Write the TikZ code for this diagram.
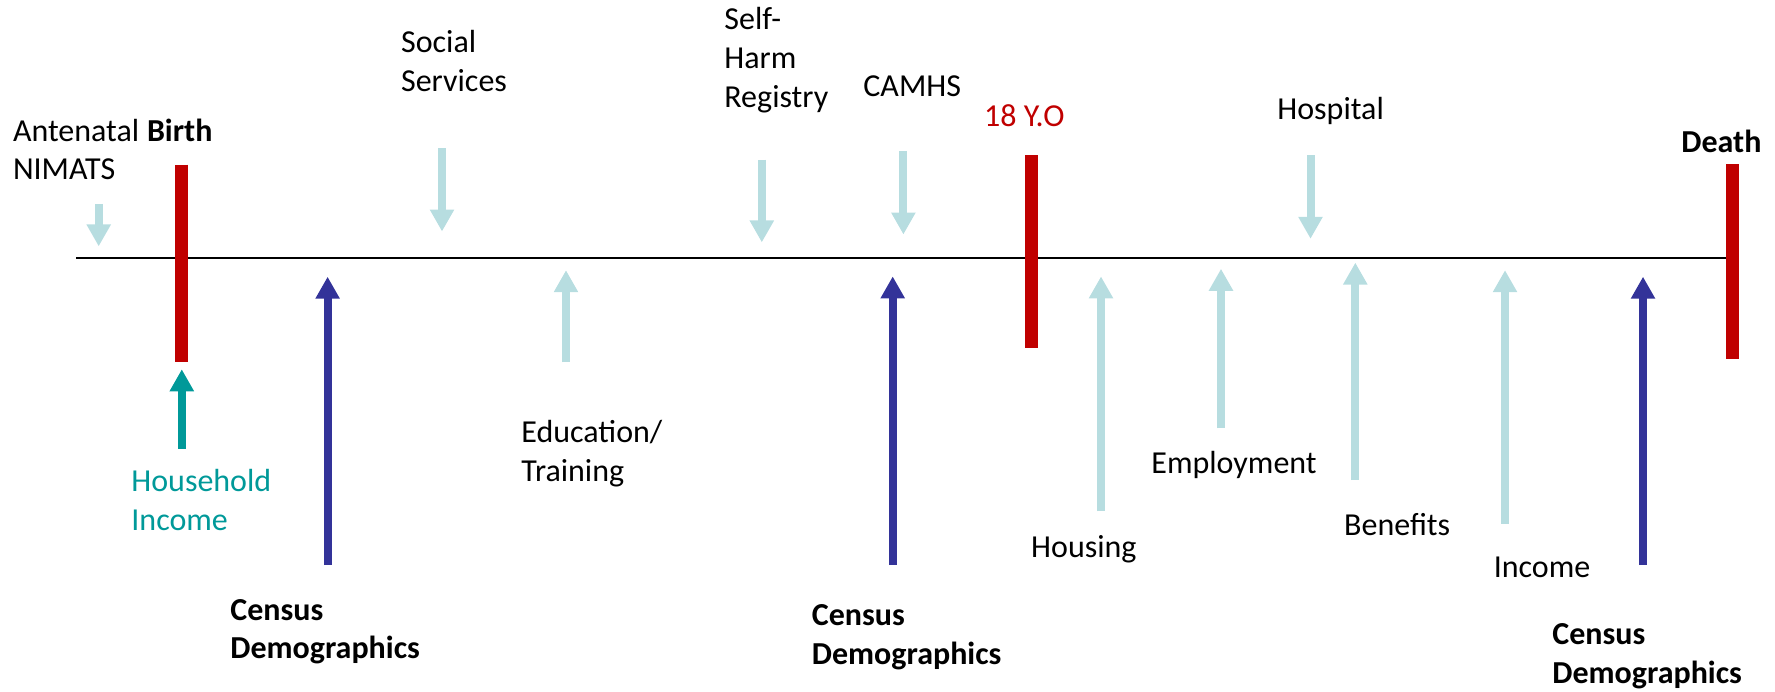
\documentclass[tikz,border=0pt]{standalone}
\usepackage{fontspec}
\setmainfont{Carlito}
\usetikzlibrary{arrows.meta}
\definecolor{feedblue}{RGB}{183,221,224}
\definecolor{censusblue}{RGB}{51,51,153}
\definecolor{incometeal}{RGB}{0,153,153}
\definecolor{eventred}{RGB}{192,0,0}
\tikzset{x=0.5pt, y=-0.5pt,
  lbl/.style={anchor=base west, inner sep=0pt, align=left, font=\fontsize{16}{19.4}\selectfont},
  boldlbl/.style={lbl, font=\fontsize{16}{19.4}\selectfont\bfseries},
  feed/.style={-{Triangle[width=11.5pt,length=11pt]}, line width=4pt, draw=feedblue},
  census/.style={feed, draw=censusblue},
  household/.style={feed, draw=incometeal},
  eventbar/.style={line width=6.5pt, draw=eventred}}

\begin{document}
\begin{tikzpicture}
  \useasboundingbox (0,0) rectangle (1775,691);
  % timeline
  \coordinate (start) at (76,258);
  \coordinate (end)   at (1726,258);
  \draw[line width=1.1pt] (start) -- (end);

  % life events
  \coordinate (birthtop) at (181.6,164.7); \coordinate (birthbot) at (181.6,361.6);
  \coordinate (adulttop) at (1031,155.1);  \coordinate (adultbot) at (1031,348.1);
  \coordinate (deathtop) at (1732,164.3);  \coordinate (deathbot) at (1732,359.3);
  \draw[eventbar] (birthtop) -- (birthbot);
  \draw[eventbar] (adulttop) -- (adultbot);
  \draw[eventbar] (deathtop) -- (deathbot);
  \node (birth) [boldlbl] at (146.6,141.9) {Birth};
  \node (adult) [lbl, text=eventred] at (983.7,126.5) {18 Y.O};
  \node (death) [boldlbl] at (1681,152.9) {Death};

  % sources above the line
  \node (antenatal) [lbl] at (12.6,179.8) {Antenatal\\NIMATS};
  \node (social)    [lbl] at (400.7,91.7) {Social\\Services};
  \node (selfharm)  [lbl] at (724,107.1)  {Self-\\Harm\\Registry};
  \node (camhs)     [lbl] at (863,96.1)   {CAMHS};
  \node (hospital)  [lbl] at (1277,119)   {Hospital};
  \coordinate (a1) at (98.7,203.8);  \coordinate (a2) at (98.7,246.4);
  \coordinate (s1) at (442,148.1);   \coordinate (s2) at (442,231.5);
  \coordinate (h1) at (761.8,159.5); \coordinate (h2) at (761.8,242.4);
  \coordinate (c1) at (903.4,150.9); \coordinate (c2) at (903.4,234.5);
  \coordinate (p1) at (1310.5,155.1); \coordinate (p2) at (1310.5,238.8);
  \draw[feed] (a1) -- (a2);
  \draw[feed] (s1) -- (s2);
  \draw[feed] (h1) -- (h2);
  \draw[feed] (c1) -- (c2);
  \draw[feed] (p1) -- (p2);

  % sources below the line
  \node (income0)   [lbl, text=incometeal] at (131,530.2) {Household\\Income};
  \node (education) [lbl] at (521,481.3)   {Education/\\Training};
  \node (housing)   [lbl] at (1030.8,557.5) {Housing};
  \node (employ)    [lbl] at (1151,473.8)  {Employment};
  \node (benefits)  [lbl] at (1343.8,535.5) {Benefits};
  \node (income)    [lbl] at (1493.4,577.3) {Income};
  \coordinate (i1) at (181.8,448.7); \coordinate (i2) at (181.8,369.3);
  \coordinate (e1) at (566,362.3);   \coordinate (e2) at (566,270.2);
  \coordinate (o1) at (1101,511.3);  \coordinate (o2) at (1101,276.4);
  \coordinate (m1) at (1221,428.4);  \coordinate (m2) at (1221,268.8);
  \coordinate (b1) at (1355.3,480.2); \coordinate (b2) at (1355.3,262.6);
  \coordinate (n1) at (1505,523.6);  \coordinate (n2) at (1505,270.2);
  \draw[household] (i1) -- (i2);
  \draw[feed] (e1) -- (e2);
  \draw[feed] (o1) -- (o2);
  \draw[feed] (m1) -- (m2);
  \draw[feed] (b1) -- (b2);
  \draw[feed] (n1) -- (n2);

  % census
  \node (census1) [boldlbl] at (230,658.9)   {Census\\Demographics};
  \node (census2) [boldlbl] at (811.5,664.6) {Census\\Demographics};
  \node (census3) [boldlbl] at (1552,683.1)  {Census\\Demographics};
  \coordinate (d1) at (327.6,565); \coordinate (d2) at (327.6,276.7);
  \coordinate (f1) at (892.7,565); \coordinate (f2) at (892.7,276.4);
  \coordinate (g1) at (1643,565);  \coordinate (g2) at (1643,276.7);
  \draw[census] (d1) -- (d2);
  \draw[census] (f1) -- (f2);
  \draw[census] (g1) -- (g2);
\end{tikzpicture}
\end{document}
